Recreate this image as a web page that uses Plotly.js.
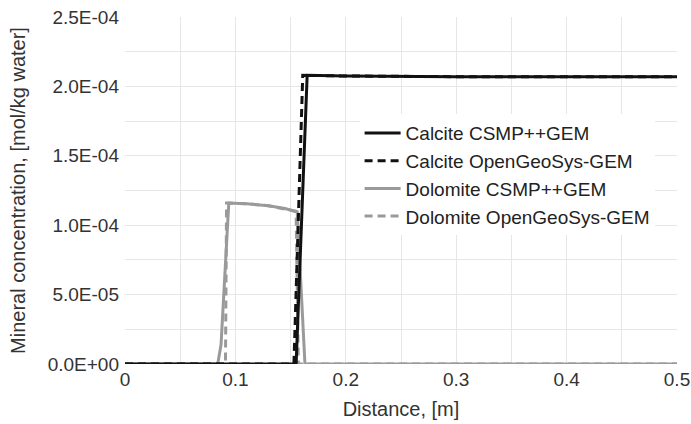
<!DOCTYPE html>
<html><head><meta charset="utf-8">
<script src="https://cdn.plot.ly/plotly-3.0.1.min.js"></script>
<style>html,body{margin:0;padding:0;background:#fff}#chart{width:691px;height:424px}</style>
</head><body><div id="chart"></div>
<script>
// Distance [m] and mineral concentration [mol/kg water]
var calciteCsmpX = [0, 0.155, 0.165, 0.2, 0.3, 0.4, 0.5];
var calciteCsmpY = [0, 0, 2.08e-4, 2.075e-4, 2.07e-4, 2.07e-4, 2.07e-4];
var calciteOgsX = [0, 0.153, 0.161, 0.2, 0.3, 0.4, 0.5];
var calciteOgsY = [0, 0, 2.08e-4, 2.075e-4, 2.07e-4, 2.07e-4, 2.07e-4];
var dolomiteCsmpX = [0, 0.084, 0.087, 0.094, 0.11, 0.13, 0.145, 0.156, 0.163, 0.2, 0.5];
var dolomiteCsmpY = [0, 0, 1.4e-5, 1.16e-4, 1.155e-4, 1.14e-4, 1.12e-4, 1.095e-4, 0, 0, 0];
var dolomiteOgsX = [0, 0.091, 0.092, 0.11, 0.13, 0.155, 0.157, 0.2, 0.5];
var dolomiteOgsY = [0, 0, 1.16e-4, 1.155e-4, 1.14e-4, 1.1e-4, 0, 0, 0];
var names = ['Calcite CSMP++GEM', 'Calcite OpenGeoSys-GEM', 'Dolomite CSMP++GEM', 'Dolomite OpenGeoSys-GEM'];
var yTickVals = [0, 5e-5, 1e-4, 1.5e-4, 2e-4, 2.5e-4];
var yTickText = ['0.0E+00', '5.0E-05', '1.0E-04', '1.5E-04', '2.0E-04', '2.5E-04'];
var xTickVals = [0, 0.1, 0.2, 0.3, 0.4, 0.5];
var xTickText = ['0', '0.1', '0.2', '0.3', '0.4', '0.5'];

var black = '#111111', gray = '#9a9a9a';
var traces = [
  {x: dolomiteCsmpX, y: dolomiteCsmpY, name: names[2], legendrank: 3, mode: 'lines', line: {color: gray, width: 3}},
  {x: dolomiteOgsX, y: dolomiteOgsY, name: names[3], legendrank: 4, mode: 'lines', line: {color: gray, width: 3, dash: '8px,5px'}},
  {x: calciteCsmpX, y: calciteCsmpY, name: names[0], legendrank: 1, mode: 'lines', line: {color: black, width: 3}},
  {x: calciteOgsX, y: calciteOgsY, name: names[1], legendrank: 2, mode: 'lines', line: {color: black, width: 3, dash: '8px,5px'}}
];
var ff = '"Liberation Sans", Arial, sans-serif';
var layout = {
  width: 691, height: 424,
  margin: {l: 125, r: 14, t: 17, b: 60},
  paper_bgcolor: '#fff', plot_bgcolor: '#fff',
  font: {family: ff, color: '#333333'},
  showlegend: true,
  legend: {x: 0.425, y: 0.72, xanchor: 'left', yanchor: 'top', bgcolor: 'rgba(255,255,255,1)',
    font: {family: ff, size: 19, color: '#222'}, tracegroupgap: 0, itemwidth: 36},
  xaxis: {range: [0, 0.5], tickvals: xTickVals, ticktext: xTickText, showgrid: true, gridcolor: '#e6e6e6',
    minor: {dtick: 0.05, showgrid: true, gridcolor: '#e6e6e6'},
    zeroline: false, showline: false, ticks: '', ticklabelstandoff: 2, tickfont: {family: ff, size: 19, color: '#333'},
    title: {text: 'Distance, [m]', font: {family: ff, size: 20, color: '#333'}, standoff: 12}},
  yaxis: {range: [0, 2.5e-4], tickvals: yTickVals, ticktext: yTickText, showgrid: true, gridcolor: '#e6e6e6',
    minor: {dtick: 2.5e-5, showgrid: true, gridcolor: '#e6e6e6'},
    zeroline: false, showline: false, ticks: '', ticklabelstandoff: 5, tickfont: {family: ff, size: 19, color: '#333'},
    title: {text: 'Mineral concentration, [mol/kg water]', font: {family: ff, size: 20, color: '#333'}, standoff: 16}}
};
Plotly.newPlot('chart', traces, layout, {displayModeBar: false, staticPlot: true});
</script></body></html>
